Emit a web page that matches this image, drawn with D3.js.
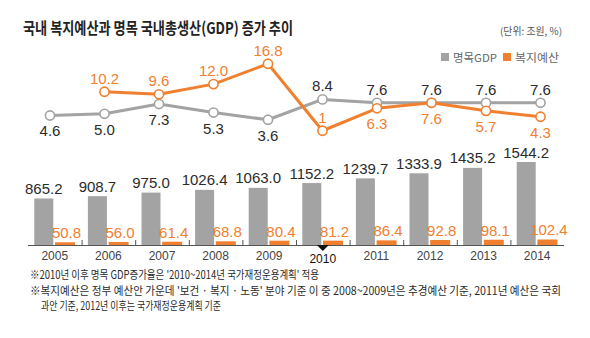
<!DOCTYPE html>
<html>
<head>
<meta charset="utf-8">
<script src="https://cdn.jsdelivr.net/npm/d3@7"></script>
<style>
  body { margin: 0; background: #fff; }
  svg { display: block; }
  .num { font-family: "Liberation Sans Narrow", "Arial Narrow", "Liberation Sans", sans-serif; }
  .kr { font-family: "Noto Sans CJK KR", "Noto Sans", sans-serif; }
</style>
</head>
<body>
<svg width="590" height="338"></svg>
<script>
// yearly data (GDP in 조원, growth rates in %)
var years = [2005, 2006, 2007, 2008, 2009, 2010, 2011, 2012, 2013, 2014];
var gdp = ["865.2", "908.7", "975.0", "1026.4", "1063.0", "1152.2", "1239.7", "1333.9", "1435.2", "1544.2"];
var welfare = ["50.8", "56.0", "61.4", "68.8", "80.4", "81.2", "86.4", "92.8", "98.1", "102.4"];
var gdpGrowth = ["4.6", "5.0", "7.3", "5.3", "3.6", "8.4", "7.6", "7.6", "7.6", "7.6"];
var welfareGrowth = [null, "10.2", "9.6", "12.0", "16.8", "1", "6.3", "7.6", "5.7", "4.3"];
var notes = [
  "※2010년 이후 명목 GDP증가율은 '2010~2014년 국가재정운용계획' 적용",
  "※복지예산은 정부 예산안 가운데 '보건 · 복지 · 노동' 분야 기준  이 중 2008~2009년은 추경예산 기준, 2011년 예산은 국회",
  "과안 기준, 2012년 이후는 국가재정운용계획 기준"
];

var GRAY = "#a3a3a3", ORANGE = "#f0802f", DARK = "#2b2b2b";
var svg = d3.select("svg");

// title + unit + legend
svg.append("text").attr("class", "kr")
  .attr("x", 23).attr("y", 34)
  .attr("textLength", 270).attr("lengthAdjust", "spacingAndGlyphs")
  .style("font-size", "16px").style("font-weight", "bold").style("fill", "#222")
  .text("국내 복지예산과 명목 국내총생산(GDP) 증가 추이");
svg.append("text").attr("class", "kr")
  .attr("x", 500).attr("y", 35)
  .attr("textLength", 62).attr("lengthAdjust", "spacingAndGlyphs")
  .style("font-size", "10px").style("fill", "#555")
  .text("(단위: 조원, %)");

var legend = [{name: "명목GDP", color: GRAY, x: 441}, {name: "복지예산", color: ORANGE, x: 503}];
var lg = svg.selectAll(".lg").data(legend).enter().append("g")
  .attr("transform", d => "translate(" + d.x + ",53)");
lg.append("rect").attr("width", 8).attr("height", 8).attr("fill", d => d.color);
lg.append("text").attr("class", "kr")
  .attr("x", 12).attr("y", 8.5)
  .attr("textLength", 44).attr("lengthAdjust", "spacingAndGlyphs")
  .style("font-size", "11px").style("fill", "#666")
  .text(d => d.name);

// bar section
var band = d3.scaleBand().domain(years).range([28, 564]).padding(0);
var yBar = d3.scaleLinear().domain([0, 1544.2]).range([245, 162]);

var g = svg.append("g");
g.selectAll("rect.gdp").data(years).enter().append("rect")
  .attr("class", "gdp")
  .attr("x", d => band(d) + 6.3).attr("width", 19)
  .attr("y", (d, i) => yBar(+gdp[i]))
  .attr("height", (d, i) => yBar(0) - yBar(+gdp[i]))
  .attr("fill", GRAY);
g.selectAll("rect.wf").data(years).enter().append("rect")
  .attr("class", "wf")
  .attr("x", d => band(d) + 27).attr("width", 20)
  .attr("y", (d, i) => yBar(+welfare[i]))
  .attr("height", (d, i) => yBar(0) - yBar(+welfare[i]))
  .attr("fill", ORANGE);

g.selectAll("text.gdpv").data(years).enter().append("text")
  .attr("class", "num")
  .attr("x", d => band(d) + 15.8)
  .attr("y", (d, i) => yBar(+gdp[i]) - 4.5)
  .attr("text-anchor", "middle")
  .style("font-size", "15px").style("fill", DARK)
  .text((d, i) => gdp[i]);
g.selectAll("text.wfv").data(years).enter().append("text")
  .attr("class", "num")
  .attr("x", d => band(d) + 38.5)
  .attr("y", (d, i) => yBar(+welfare[i]) - 4)
  .attr("text-anchor", "middle")
  .style("font-size", "15px").style("fill", ORANGE)
  .text((d, i) => welfare[i]);

// x axis
g.append("line").attr("x1", 28).attr("x2", 564).attr("y1", 245.5).attr("y2", 245.5)
  .attr("stroke", "#555").attr("stroke-width", 1);
g.selectAll("line.tick").data(years.slice(1)).enter().append("line")
  .attr("x1", d => band(d) + 0.5).attr("x2", d => band(d) + 0.5)
  .attr("y1", 240).attr("y2", 245)
  .attr("stroke", "#555");
g.selectAll("text.yr").data(years).enter().append("text")
  .attr("class", "num")
  .attr("x", d => band(d) + band.bandwidth() / 2)
  .attr("y", d => d == 2010 ? 263 : 260)
  .attr("text-anchor", "middle")
  .style("font-size", "12px")
  .style("fill", d => d == 2010 ? "#111" : "#444")
  .text(d => d);
// marker under 2010
var cx = band(2010) + band.bandwidth() / 2;
g.append("path")
  .attr("d", "M" + (cx - 6) + ",245 L" + (cx + 6) + ",245 L" + cx + ",251 Z")
  .attr("fill", "#111");

// growth lines
var xLine = d3.scaleLinear().domain([2005, 2014]).range([50, 540.5]);
var yLine = d3.scaleLinear().domain([0, 20]).range([135, 50.2]);

function drawSeries(vals, color, labelPos)
{
  var pts = [];
  for(var i=0;i<years.length;i++)
  {
    if(vals[i]==null)continue;
    pts.push({year: years[i], txt: vals[i], v: +vals[i]});
  }
  var line = d3.line().x(d => xLine(d.year)).y(d => yLine(d.v));
  svg.append("path").datum(pts)
    .attr("d", line)
    .attr("fill", "none").attr("stroke", color)
    .attr("stroke-width", 3).attr("stroke-linejoin", "round");
  svg.selectAll(null).data(pts).enter().append("circle")
    .attr("cx", d => xLine(d.year)).attr("cy", d => yLine(d.v))
    .attr("r", 4.6)
    .attr("fill", "#fff").attr("stroke", color).attr("stroke-width", 1.6);
  svg.selectAll(null).data(pts).enter().append("text")
    .attr("class", "num")
    .attr("x", d => xLine(d.year))
    .attr("y", d => yLine(d.v) + (labelPos(d) == "above" ? -8 : 21))
    .attr("text-anchor", "middle")
    .style("font-size", "15px")
    .style("fill", color == GRAY ? DARK : ORANGE)
    .text(d => d.txt);
}

drawSeries(gdpGrowth, GRAY, d => d.year < 2010 ? "below" : "above");
drawSeries(welfareGrowth, ORANGE, d => d.year <= 2010 ? "above" : "below");

// footnotes
var noteX = [30, 30, 41], noteY = [279, 295, 310], noteW = [289, 531, 180];
svg.selectAll("text.note").data(notes).enter().append("text")
  .attr("class", "kr")
  .attr("x", (d, i) => noteX[i]).attr("y", (d, i) => noteY[i])
  .attr("textLength", (d, i) => noteW[i]).attr("lengthAdjust", "spacingAndGlyphs")
  .style("font-size", "11.5px").style("fill", "#2a2a2a")
  .text(d => d);
</script>
</body>
</html>
